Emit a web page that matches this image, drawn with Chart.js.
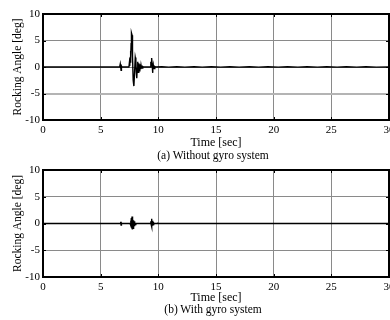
<!DOCTYPE html>
<html>
<head>
<meta charset="utf-8">
<script src="https://cdn.jsdelivr.net/npm/chart.js@4.4.1/dist/chart.umd.min.js"></script>
<style>
    html, body { margin: 0; padding: 0; background: #fff; }
    #wrap { position: relative; width: 390px; height: 320px; overflow: hidden; }
    canvas { position: absolute; left: 0; }
    .caption {
        position: absolute;
        left: 113px;
        width: 200px;
        text-align: center;
        font-family: "Liberation Serif", serif;
        font-size: 11.5px;
        color: #000;
        white-space: nowrap;
        line-height: 12px;
    }
</style>
</head>
<body>
<div id="wrap">
    <canvas id="chartA" width="390" height="150" style="top:0"></canvas>
    <div class="caption" style="top:149px">(a) Without gyro system</div>
    <canvas id="chartB" width="390" height="145" style="top:160px"></canvas>
    <div class="caption" style="top:303px">(b) With gyro system</div>
</div>
<script>
// Tick values on both axes
const xTickValues = [0, 5, 10, 15, 20, 25, 30];
const yTickValues = [-10, -5, 0, 5, 10];

// (a) Without gyro system - time [sec] and rocking angle [deg]
const timeA = [0, 6.65, 6.7, 6.74, 6.77, 6.8, 6.85,
    7.45, 7.49, 7.52, 7.55, 7.58, 7.6, 7.62, 7.64, 7.67, 7.72, 7.76, 7.82, 7.88, 7.94,
    8.0, 8.05, 8.09, 8.13, 8.17, 8.2, 8.23, 8.26, 8.29, 8.32, 8.35, 8.38, 8.41, 8.44,
    8.47, 8.5, 8.53, 8.56, 8.6, 8.65, 8.72,
    9.3, 9.35, 9.38, 9.42, 9.46, 9.5, 9.53, 9.56, 9.59, 9.62, 9.65, 9.68, 9.71, 9.76,
    10.3, 10.9, 11.6, 12.3, 13.1, 13.8, 14.6, 15.4, 16.2, 17.0, 17.9, 18.7, 19.5,
    20.4, 21.2, 22.1, 22.9, 23.8, 24.6, 25.5, 26.3, 27.2, 28.0, 28.9, 30];
const angleA = [0, 0, 0.55, -0.1, -0.6, 0.2, 0,
    0, 0.8, 0.2, 1.8, 0.8, 3.0, 1.6, 4.4, 6.4, 6.0, 2.0, -2.5, -3.6, -1.0,
    1.8, 1.2, -1.0, -2.1, -0.3, 1.0, 0.5, -1.0, -0.5, 0.7, -0.7, 0.5, -0.6, 0.4,
    -0.4, 0.3, -0.3, 0.2, -0.2, 0.1, 0,
    0, 1.0, 0.3, 1.7, 0.6, -1.1, -0.2, 0.4, -0.4, 0.3, -0.3, 0.2, -0.1, 0,
    0.05, -0.03, 0.05, -0.03, 0.05, -0.03, 0.05, -0.03, 0.05, -0.03, 0.05, -0.03, 0.05,
    -0.03, 0.05, -0.03, 0.05, -0.03, 0.05, -0.03, 0.05, -0.03, 0.05, -0.03, 0];

// (b) With gyro system
const timeB = [0, 6.7, 6.74, 6.77, 6.8, 6.85,
    7.55, 7.6, 7.63, 7.66, 7.69, 7.72, 7.75, 7.78, 7.81, 7.84, 7.87, 7.9, 7.93, 7.96, 8.0, 8.05,
    9.3, 9.35, 9.38, 9.41, 9.44, 9.47, 9.5, 9.53, 9.56, 9.6, 9.65,
    9.9, 9.93, 9.96, 30];
const angleB = [0, 0, 0.3, -0.3, 0.1, 0,
    0, 0.5, -0.4, 1.0, -0.8, 1.3, -1.1, 0.9, -0.9, 0.6, -0.7, 0.4, -0.5, 0.2, -0.2, 0,
    0, 0.4, -0.2, 0.9, -0.6, 0.5, -0.4, 0.3, -0.2, 0.1, 0,
    0, 0.2, 0, 0];

const FONT = '"Liberation Serif", serif';

/**
 * Draw the black plot box and the small inward tick marks (MATLAB style)
 */
const boxPlugin = {
    id: 'box',
    afterDatasetsDraw(chart) {
        const { ctx, chartArea: a, scales } = chart;
        ctx.save();
        ctx.strokeStyle = '#000';
        ctx.lineWidth = 1;
        ctx.beginPath();
        scales.x.ticks.forEach(t => {
            const px = Math.round(scales.x.getPixelForValue(t.value)) + 0.5;
            ctx.moveTo(px, a.top); ctx.lineTo(px, a.top + 3);
            ctx.moveTo(px, a.bottom); ctx.lineTo(px, a.bottom - 3);
        });
        scales.y.ticks.forEach(t => {
            const py = Math.round(scales.y.getPixelForValue(t.value)) + 0.5;
            ctx.moveTo(a.left, py); ctx.lineTo(a.left + 3, py);
            ctx.moveTo(a.right, py); ctx.lineTo(a.right - 3, py);
        });
        ctx.stroke();
        ctx.lineWidth = 2;
        ctx.strokeRect(a.left, a.top, a.right - a.left, a.bottom - a.top);
        ctx.restore();
    }
};

function makeChart(id, times, angles, opts) {
    const points = times.map((t, i) => ({ x: t, y: angles[i] }));
    return new Chart(document.getElementById(id), {
        type: 'line',
        data: {
            datasets: [{
                data: points,
                borderColor: '#000',
                borderWidth: 1.4,
                pointRadius: 0,
                tension: 0,
                fill: false
            }]
        },
        options: {
            responsive: false,
            animation: false,
            devicePixelRatio: 1,
            layout: { padding: { top: opts.top, right: 1, left: 0, bottom: 0 } },
            plugins: { legend: { display: false }, tooltip: { enabled: false } },
            scales: {
                x: {
                    type: 'linear',
                    min: 0,
                    max: 30,
                    afterBuildTicks: s => { s.ticks = xTickValues.map(v => ({ value: v })); },
                    afterFit: s => { s.height = opts.xHeight; s.paddingLeft = 0; s.paddingRight = 0; },
                    grid: { color: '#8a8a8a', lineWidth: 1, drawTicks: false },
                    border: { display: false },
                    ticks: { color: '#000', padding: 4, maxRotation: 0, font: { family: FONT, size: 11 } },
                    title: { display: true, text: 'Time [sec]', color: '#000', padding: 0, font: { family: FONT, size: 12 } }
                },
                y: {
                    min: -10,
                    max: 10,
                    afterBuildTicks: s => { s.ticks = yTickValues.map(v => ({ value: v })); },
                    afterFit: s => { s.width = 43; s.paddingTop = 0; s.paddingBottom = 0; },
                    grid: {
                        drawTicks: false,
                        color: c => (opts.lightMinus5 && c.tick && c.tick.value === -5) ? '#b4b4b4' : '#8a8a8a',
                        lineWidth: c => (opts.lightMinus5 && c.tick && c.tick.value === -5) ? 2 : 1
                    },
                    border: { display: false },
                    ticks: { color: '#000', padding: 3, font: { family: FONT, size: 11 } },
                    title: { display: true, text: 'Rocking Angle [deg]', color: '#000', padding: { top: 11, bottom: 0 }, font: { family: FONT, size: 11.5 } }
                }
            }
        },
        plugins: [boxPlugin]
    });
}

makeChart('chartA', timeA, angleA, { top: 14, xHeight: 30, lightMinus5: true });
makeChart('chartB', timeB, angleB, { top: 10, xHeight: 28, lightMinus5: false });
</script>
</body>
</html>
